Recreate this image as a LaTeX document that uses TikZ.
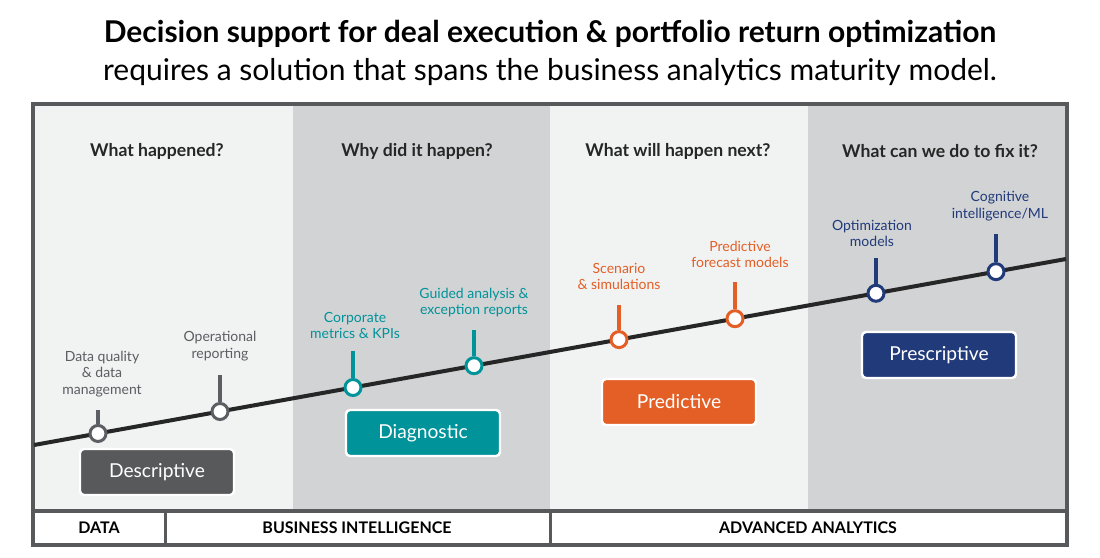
\documentclass[tikz,border=0pt]{standalone}
\usepackage{fontspec}
\setmainfont{Lato}
\begin{document}
\begin{tikzpicture}[x=0.5pt,y=-0.5pt,
  lab/.style={align=center,font=\fontsize{7}{8.2}\selectfont,anchor=south},
  head/.style={font=\bfseries\fontsize{8.8}{10}\selectfont,text=black!85},
  box/.style={rounded corners=2pt,draw=white,line width=1.2pt,minimum width=77pt,minimum height=23pt,text=white,font=\fontsize{9.6}{11}\selectfont},
  dot/.style={circle,draw=#1,line width=1.5pt,fill=white,minimum size=8pt,inner sep=0pt},
  band/.style={font=\bfseries\fontsize{8}{9}\selectfont}]
\definecolor{lt}{HTML}{F1F2F2}\definecolor{dk}{HTML}{D1D3D4}
\definecolor{fr}{HTML}{58595B}\definecolor{tl}{HTML}{00939A}
\definecolor{og}{HTML}{E35F26}\definecolor{nv}{HTML}{213A7A}
\definecolor{gr}{HTML}{5B5E62}
\useasboundingbox (0,0) rectangle (1100,558);
\fill[white] (0,0) rectangle (1100,558);
\node[font=\bfseries\fontsize{15}{18}\selectfont] (t1) at (550,34) {Decision support for deal execution \& portfolio return optimization};
\node[font=\fontsize{15}{18}\selectfont] (t2) at (550,72) {requires a solution that spans the business analytics maturity model.};
\fill[lt] (33,104) rectangle (293,511);
\fill[dk] (293,104) rectangle (550,511);
\fill[lt] (550,104) rectangle (808,511);
\fill[dk] (808,104) rectangle (1067,511);
\draw[fr,line width=2pt] (33,104) rectangle (1067,545);
\draw[fr,line width=2pt] (33,511) -- (1067,511);
\draw[fr,line width=1.5pt] (165,511) -- (165,545) (550,511) -- (550,545);
\node[band] (b1) at (99,528) {DATA};
\node[band] (b2) at (357,528) {BUSINESS INTELLIGENCE};
\node[band] (b3) at (808,528) {ADVANCED ANALYTICS};
\node[head] (h1) at (157,151) {What happened?};
\node[head] (h2) at (417,151) {Why did it happen?};
\node[head] (h3) at (678,151) {What will happen next?};
\node[head] (h4) at (940,151) {What can we do to fix it?};
\coordinate (L0) at (34,445); \coordinate (L1) at (1066,259);
\draw[black!85,line width=2pt] (L0) -- (L1);
\foreach \n/\x/\top/\c in {d1/98/410/gr,d2/220/375/gr,d3/353/351/tl,d4/474/330/tl,d5/619/305/og,d6/735/282/og,d7/876/258/nv,d8/996/234/nv}{
  \pgfmathsetmacro{\yy}{445-0.1802*(\x-34)}
  \coordinate (\n t) at (\x,\top);
  \node[dot=\c] (\n) at (\x,\yy) {};
  \draw[\c,line width=1.6pt] (\n t) -- (\n.north);
}
\node[lab,text=gr] at (102,404) {Data quality\\\& data\\management};
\node[lab,text=gr] at (220,368) {Operational\\reporting};
\node[lab,text=tl] at (355,346) {Corporate\\metrics \& KPIs};
\node[lab,text=tl] at (474,324) {Guided analysis \&\\exception reports};
\node[lab,text=og] at (619,297) {Scenario\\\& simulations};
\node[lab,text=og] at (740,275) {Predictive\\forecast models};
\node[lab,text=nv] at (872,254) {Optimization\\models};
\node[lab,text=nv] at (1000,228) {Cognitive\\intelligence/ML};
\node[box,fill=fr] (bx1) at (157,472) {Descriptive};
\node[box,fill=tl] (bx2) at (423,433) {Diagnostic};
\node[box,fill=og] (bx3) at (679,402) {Predictive};
\node[box,fill=nv] (bx4) at (939,355) {Prescriptive};
\end{tikzpicture}
\end{document}
